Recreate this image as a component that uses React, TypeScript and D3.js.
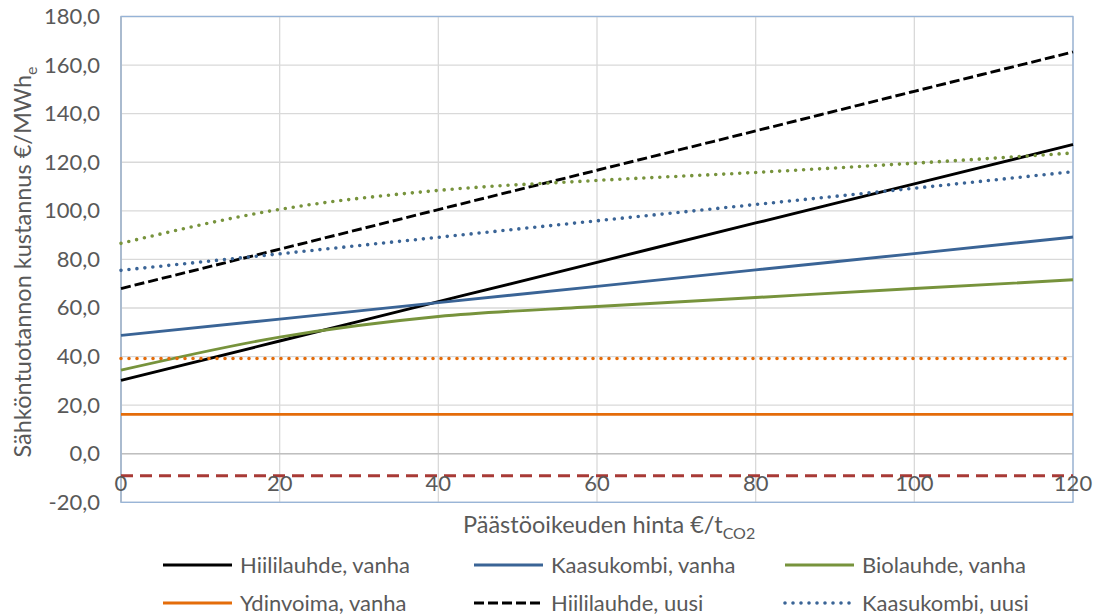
import * as d3 from "d3";

const prices = [0, 20, 40, 60, 80, 100, 120];

const hiiliVanha = [30.2, 46.4, 62.6, 78.8, 95.0, 111.1, 127.3];
const kaasuVanha = [48.7, 55.4, 62.2, 68.9, 75.7, 82.4, 89.2];
const bioVanha = [34.4, 48.0, 56.5, 60.6, 64.3, 68.0, 71.6];
const ydinVanha = [16.2, 16.2, 16.2, 16.2, 16.2, 16.2, 16.2];
const hiiliUusi = [68.0, 84.2, 100.5, 116.7, 132.9, 149.2, 165.4];
const kaasuUusi = [75.5, 82.3, 89.1, 95.9, 102.6, 109.3, 116.1];
const bioUusi = [86.6, 100.6, 108.4, 112.5, 115.8, 119.6, 123.8];
const ydinUusi = [39.2, 39.2, 39.2, 39.2, 39.2, 39.2, 39.2];
const punainen = [-9.1, -9.1, -9.1, -9.1, -9.1, -9.1, -9.1];

const yTicks = [-20, 0, 20, 40, 60, 80, 100, 120, 140, 160, 180];
const xTicks = [0, 20, 40, 60, 80, 100, 120];

type Series = {
  name: string;
  values: number[];
  color: string;
  dash: string | null;
  dotted: boolean;
  legend: boolean;
};

const series: Series[] = [
  { name: "Hiililauhde, vanha", values: hiiliVanha, color: "#000000", dash: null, dotted: false, legend: true },
  { name: "Kaasukombi, vanha", values: kaasuVanha, color: "#3A6496", dash: null, dotted: false, legend: true },
  { name: "Biolauhde, vanha", values: bioVanha, color: "#77933C", dash: null, dotted: false, legend: true },
  { name: "Ydinvoima, vanha", values: ydinVanha, color: "#E46C0A", dash: null, dotted: false, legend: true },
  { name: "Hiililauhde, uusi", values: hiiliUusi, color: "#000000", dash: "10 4", dotted: false, legend: true },
  { name: "Kaasukombi, uusi", values: kaasuUusi, color: "#3A6496", dash: null, dotted: true, legend: true },
  { name: "Biolauhde, uusi", values: bioUusi, color: "#77933C", dash: null, dotted: true, legend: false },
  { name: "Ydinvoima, uusi", values: ydinUusi, color: "#E46C0A", dash: null, dotted: true, legend: false },
  { name: "Muu", values: punainen, color: "#A83A36", dash: "12 7", dotted: false, legend: false },
];

const width = 1097;
const height = 614;
const left = 121;
const right = 1073;
const top = 16.5;
const bottom = 502.3;
const font = "Lato, 'Open Sans', sans-serif";
const textColor = "#595959";

export default function App() {
  const x = d3.scaleLinear().domain([0, 120]).range([left, right]);
  const y = d3.scaleLinear().domain([-20, 180]).range([bottom, top]);

  const line = (vals: number[]) =>
    d3
      .line<number>()
      .x((_, i) => x(prices[i]))
      .y((d) => y(d))
      .curve(d3.curveMonotoneX)(vals) || "";

  const strokeProps = (s: Series) =>
    s.dotted
      ? { strokeDasharray: "0 8", strokeLinecap: "round" as const, strokeWidth: 3.6 }
      : { strokeDasharray: s.dash ?? undefined, strokeWidth: 2.9 };

  const legendItems = series.filter((s) => s.legend);
  const legendCols = [163, 474, 785];
  const legendRows = [565, 603];

  return (
    <svg
      width={width}
      height={height}
      style={{ position: "absolute", left: 0, top: 0, background: "#fff" }}
      fontFamily={font}
    >
      {/* gridlines */}
      {yTicks.map((t) => (
        <line key={"gy" + t} x1={left} x2={right} y1={y(t)} y2={y(t)} stroke="#D9D9D9" strokeWidth={1.3} />
      ))}
      {xTicks.map((t) => (
        <line key={"gx" + t} x1={x(t)} x2={x(t)} y1={top} y2={bottom} stroke="#D9D9D9" strokeWidth={1.3} />
      ))}
      {/* horizontal axis at zero */}
      <line x1={left} x2={right} y1={y(0)} y2={y(0)} stroke="#BFBFBF" strokeWidth={1.5} />
      {/* plot border */}
      <rect x={left} y={top} width={right - left} height={bottom - top} fill="none" stroke="#95B3D7" strokeWidth={1.3} />
      <line x1={left} x2={left} y1={top} y2={bottom} stroke="#A9B8CB" strokeWidth={1.5} />

      {/* series */}
      {series.map((s) => (
        <path key={s.name} d={line(s.values)} fill="none" stroke={s.color} {...strokeProps(s)} />
      ))}

      {/* y tick labels */}
      {yTicks.map((t) => (
        <text key={"ly" + t} x={100} y={y(t) + 7.5} textAnchor="end" fontSize={22} fill={textColor}>
          {d3.format(".1f")(t).replace(".", ",").replace("\u2212", "-")}
        </text>
      ))}
      {/* x tick labels */}
      {xTicks.map((t) => (
        <text key={"lx" + t} x={x(t)} y={491} textAnchor="middle" fontSize={22} fill={textColor}>
          {t}
        </text>
      ))}

      {/* axis titles */}
      <text x={463} y={533} fontSize={23.5} fill={textColor}>
        Päästöoikeuden hinta €/t
        <tspan fontSize={16} dy={6}>CO2</tspan>
      </text>
      <text transform="translate(31,262) rotate(-90)" textAnchor="middle" fontSize={23.5} fill={textColor}>
        Sähköntuotannon kustannus €/MWh
        <tspan fontSize={16} dy={6}>e</tspan>
      </text>

      {/* legend */}
      {legendItems.map((s, i) => {
        const cx = legendCols[i % 3];
        const cy = legendRows[Math.floor(i / 3)];
        return (
          <g key={"lg" + s.name}>
            <line x1={cx} x2={cx + 69} y1={cy} y2={cy} stroke={s.color} {...strokeProps(s)} />
            <text x={cx + 77} y={cy + 7.5} fontSize={22} fill={textColor}>
              {s.name}
            </text>
          </g>
        );
      })}
    </svg>
  );
}
